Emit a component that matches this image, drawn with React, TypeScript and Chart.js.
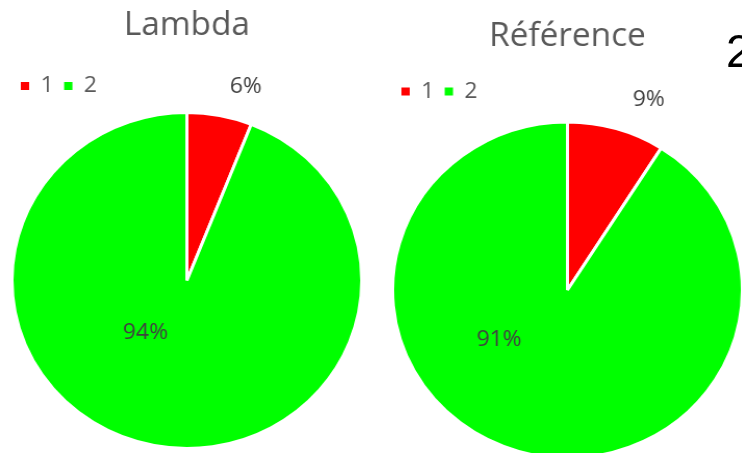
import React, { useEffect, useRef } from 'react';
import { Chart, registerables } from 'chart.js';

Chart.register(...registerables);

const categories = ['1', '2'];
const lambdaValues = [6, 94];
const referenceValues = [9, 91];
const chartTitles = ['Lambda', 'Référence'];
const sliceColors = ['#FF0000', '#00FF00'];

const FONT = "'Open Sans', 'Liberation Sans', sans-serif";
const INTERNAL_W = 365;
const INTERNAL_H = 470;
const CSS_W = 380;

const pctLabels = {
  id: 'pctLabels',
  afterDatasetsDraw(chart: any, _args: any, opts: any) {
    const meta = chart.getDatasetMeta(0);
    const data = chart.data.datasets[0].data as number[];
    const total = data.reduce((a, b) => a + b, 0);
    const ctx = chart.ctx;
    ctx.save();
    ctx.font = `${opts.size}px ${FONT}`;
    ctx.fillStyle = opts.color;
    ctx.textAlign = 'center';
    ctx.textBaseline = 'middle';
    meta.data.forEach((arc: any, i: number) => {
      const { x, y, outerRadius } = arc.getProps(['x', 'y', 'outerRadius'], true);
      const pos = opts.positions[i];
      const a = (pos.angle * Math.PI) / 180;
      const px = x + Math.sin(a) * pos.r * outerRadius;
      const py = y - Math.cos(a) * pos.r * outerRadius;
      ctx.fillText(Math.round((data[i] / total) * 100) + '%', px, py);
    });
    ctx.restore();
  },
};

interface PieProps {
  title: string;
  values: number[];
  cssLeft: number;
  layoutPad: { left: number; right: number; top: number; bottom: number };
  titlePad: { top: number; bottom: number };
  labelPositions: { r: number; angle: number }[];
}

function PieChart({ title, values, cssLeft, layoutPad, titlePad, labelPositions }: PieProps) {
  const ref = useRef<HTMLCanvasElement | null>(null);
  useEffect(() => {
    if (!ref.current) return;
    const defaultGen = (Chart as any).overrides.doughnut.plugins.legend.labels.generateLabels;
    const chart = new Chart(ref.current, {
      type: 'pie',
      data: {
        labels: categories,
        datasets: [
          {
            data: values,
            backgroundColor: sliceColors,
            borderColor: '#FFFFFF',
            borderWidth: 3,
          },
        ],
      },
      plugins: [pctLabels as any],
      options: {
        responsive: false,
        animation: false,
        events: [],
        layout: { padding: layoutPad },
        plugins: {
          title: {
            display: true,
            text: title,
            color: '#595959',
            font: { family: FONT, size: 32, weight: 'normal' as any },
            padding: titlePad,
          },
          legend: {
            display: true,
            position: 'top',
            align: 'start',
            labels: {
              color: '#595959',
              font: { family: FONT, size: 22 },
              boxWidth: 8,
              boxHeight: 8,
              padding: 10,
              generateLabels: (c: any) =>
                defaultGen(c).map((l: any) => ({ ...l, lineWidth: 0, strokeStyle: l.fillStyle })),
            },
          },
          tooltip: { enabled: false },
          pctLabels: { size: 22, color: '#404040', positions: labelPositions },
        } as any,
      },
    });
    return () => chart.destroy();
  }, []);
  return (
    <canvas
      ref={ref}
      width={INTERNAL_W}
      height={INTERNAL_H}
      style={{ position: 'absolute', left: cssLeft, top: 0, width: CSS_W, height: INTERNAL_H }}
    />
  );
}

export default function App() {
  return (
    <div
      style={{
        position: 'fixed',
        left: 0,
        top: 0,
        width: 742,
        height: 453,
        overflow: 'hidden',
        background: '#FFFFFF',
      }}
    >
      <PieChart
        title={chartTitles[0]}
        values={lambdaValues}
        cssLeft={0}
        layoutPad={{ left: 10, right: 16, top: 0, bottom: 16 }}
        titlePad={{ top: 7, bottom: 19.6 }}
        labelPositions={[
          { r: 1.2, angle: 16.3 },
          { r: 0.39, angle: 217.4 },
        ]}
      />
      <PieChart
        title={chartTitles[1]}
        values={referenceValues}
        cssLeft={366}
        layoutPad={{ left: 24, right: 2, top: 0, bottom: 2.5 }}
        titlePad={{ top: 17.3, bottom: 14.8 }}
        labelPositions={[
          { r: 1.225, angle: 22.3 },
          { r: 0.49, angle: 232.9 },
        ]}
      />
      <div
        style={{
          position: 'absolute',
          left: 726,
          top: 28,
          fontFamily: "'Liberation Sans', Arial, sans-serif",
          fontSize: 46,
          lineHeight: '46px',
          color: '#000000',
        }}
      >
        2
      </div>
    </div>
  );
}
